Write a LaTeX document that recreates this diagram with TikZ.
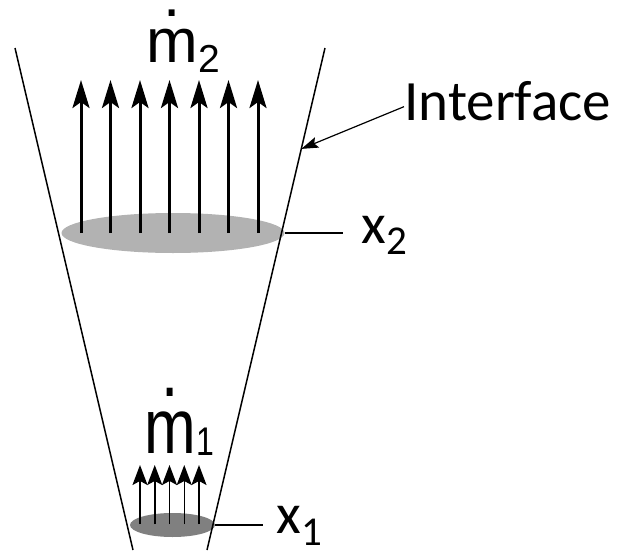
\documentclass[tikz,border=0pt]{standalone}
\usepackage{fontspec}
\setmainfont{Carlito}
\newfontfamily\arialfont{Liberation Sans}
\usetikzlibrary{positioning, shapes.geometric, calc, arrows.meta}

\begin{document}
\begin{tikzpicture}[
  x=0.5pt, y=-0.5pt,
  % Walls of the cone
  wall/.style={line width=0.75pt},
  % Cross sections (Ellipses)
  sectionTop/.style={ellipse, fill=black!30, minimum width=111.5pt, minimum height=20pt, inner sep=0pt},
  sectionBot/.style={ellipse, fill=black!50, minimum width=42.5pt, minimum height=12pt, inner sep=0pt},
  % Mass flux arrows
  fluxBig/.style={-{Stealth[length=14pt, width=8.5pt, inset=3pt]}, line width=1.5pt},
  fluxSmall/.style={-{Stealth[length=10pt, width=7.5pt, inset=2pt]}, line width=0.75pt},
  % Labels and leaders
  lbl/.style={inner sep=0pt, anchor=base west, font=\fontsize{28.5}{30}\selectfont},
  flux/.style={inner sep=0pt, anchor=base west, font=\arialfont\fontsize{31}{31}\selectfont},
  leader/.style={line width=0.6pt},
  pointer/.style={-{Stealth[length=8.5pt, width=5.5pt, inset=1.5pt]}, line width=0.6pt}
  ]
  \useasboundingbox (0,0) rectangle (622,552);

  % --- Cross sections ---
  \node[sectionTop] (S2) at (173,233) {};
  \node[sectionBot] (S1) at (172.5,525) {};

  % --- Interface walls ---
  \coordinate (LT) at (15,48);
  \coordinate (LB) at (133,550);
  \coordinate (RT) at (325,48);
  \coordinate (RB) at (207,550);
  \draw[wall] (LT) -- (LB);
  \draw[wall] (RT) -- (RB);

  % --- Mass flux through the sections ---
  \foreach \i in {0,...,6}
    \draw[fluxBig] ($(S2.center)+({-92+29.5*\i},0)$) -- ++(0,-153);
  \foreach \i in {0,...,4}
    \draw[fluxSmall] ($(S1.center)+({-32.5+14.75*\i},-1)$) -- ++(0,-59);

  \node[flux] (m2) at (146,62)
    {\rlap{\hspace{8.6pt}\raisebox{23pt}[0pt][0pt]{.}}m\raisebox{-5pt}{\fontsize{19.5}{19}\selectfont 2}};
  \node[flux, transform shape, yscale=1.25] (m1) at (144,453)
    {\rlap{\hspace{8.6pt}\raisebox{22.5pt}[0pt][0pt]{.}}m\raisebox{-0.8pt}{\fontsize{16}{16}\selectfont 1}};

  % --- Section positions ---
  \coordinate (x2end) at (343,233);
  \coordinate (x1end) at (263,525);
  \draw[leader] (S2.east) -- (x2end);
  \draw[leader] (S1.east) -- (x1end);
  \node[lbl] (x2lbl) at (361,243) {x\raisebox{-5.5pt}{\fontsize{20.5}{20}\selectfont 2}};
  \node[lbl] (x1lbl) at (276,533) {x\raisebox{-6pt}[\height][0pt]{\fontsize{20.5}{20}\selectfont 1}};

  % --- Interface ---
  \node[lbl] (iface) at (404,120) {Interface};
  \coordinate (wallPt) at ($(RT)!0.201!(RB)$);
  \draw[pointer] ([shift={(0,6)}]iface.west) -- (wallPt);

\end{tikzpicture}
\end{document}
